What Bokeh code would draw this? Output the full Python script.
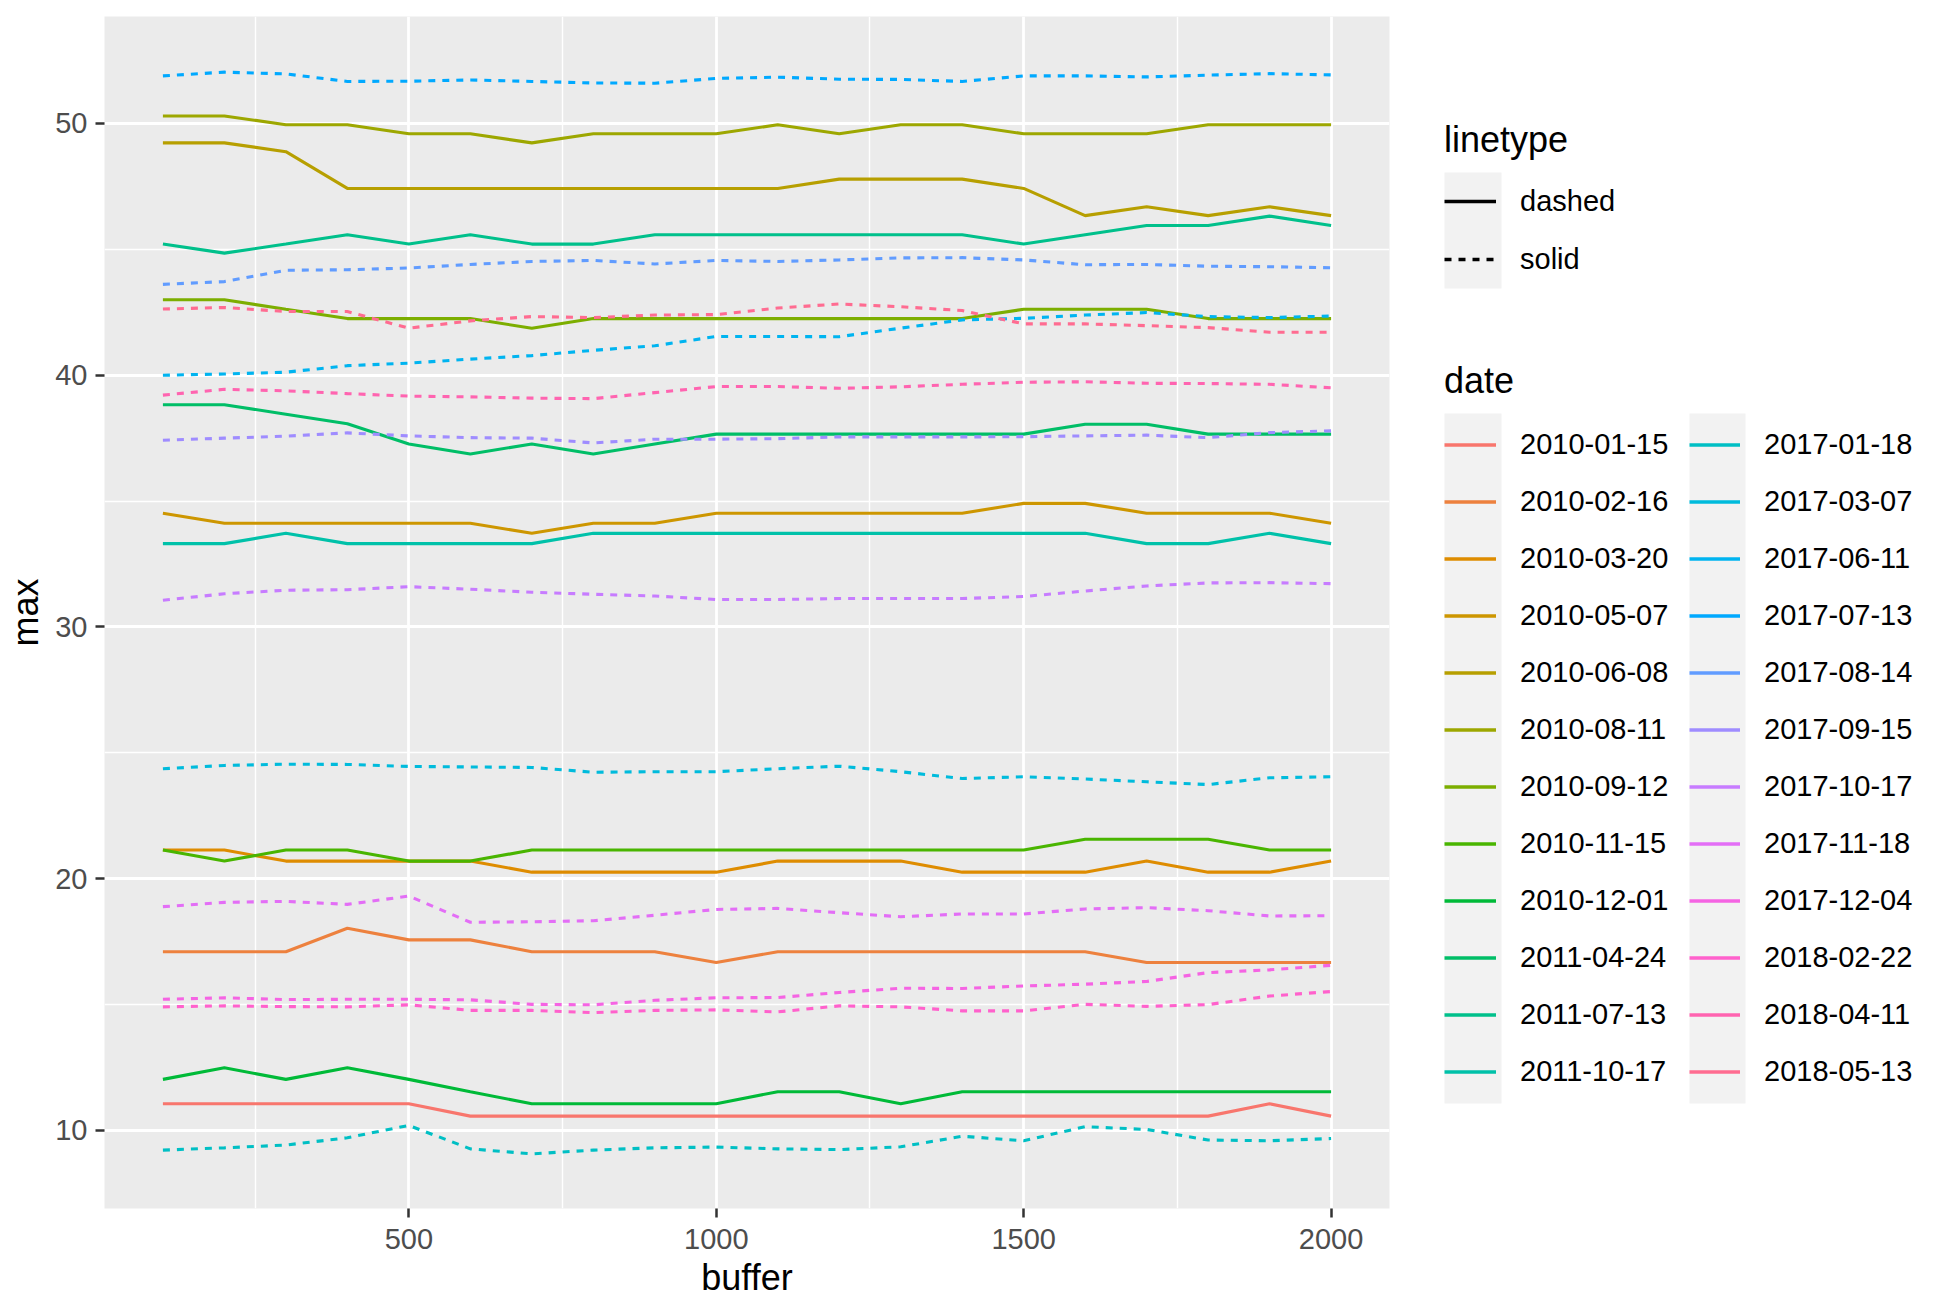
import math
from bokeh.plotting import figure
from bokeh.layouts import row
from bokeh.models import ColumnDataSource, Range1d, FixedTicker, Legend, LegendItem, BoxAnnotation
from bokeh.embed import file_html
from bokeh.resources import INLINE

FONT = "Liberation Sans"

# ---------------- data ----------------
buffer = [100, 200, 300, 400, 500, 600, 700, 800, 900, 1000,
          1100, 1200, 1300, 1400, 1500, 1600, 1700, 1800, 1900, 2000]

dates = ["2010-01-15", "2010-02-16", "2010-03-20", "2010-05-07", "2010-06-08", "2010-08-11",
         "2010-09-12", "2010-11-15", "2010-12-01", "2011-04-24", "2011-07-13", "2011-10-17",
         "2017-01-18", "2017-03-07", "2017-06-11", "2017-07-13", "2017-08-14", "2017-09-15",
         "2017-10-17", "2017-11-18", "2017-12-04", "2018-02-22", "2018-04-11", "2018-05-13"]

linetype = ["dashed"] * 12 + ["solid"] * 12
linetype_levels = ["dashed", "solid"]

max_2010_01_15 = [11.06, 11.06, 11.06, 11.06, 11.06, 10.57, 10.57, 10.57, 10.57, 10.57,
                  10.57, 10.57, 10.57, 10.57, 10.57, 10.57, 10.57, 10.57, 11.06, 10.57]
max_2010_02_16 = [17.10, 17.10, 17.10, 18.03, 17.57, 17.57, 17.10, 17.10, 17.10, 16.67,
                  17.10, 17.10, 17.10, 17.10, 17.10, 17.10, 16.67, 16.67, 16.67, 16.67]
max_2010_03_20 = [21.14, 21.14, 20.70, 20.70, 20.70, 20.70, 20.26, 20.26, 20.26, 20.26,
                  20.70, 20.70, 20.70, 20.26, 20.26, 20.26, 20.70, 20.26, 20.26, 20.70]
max_2010_05_07 = [34.52, 34.12, 34.12, 34.12, 34.12, 34.12, 33.72, 34.12, 34.12, 34.52,
                  34.52, 34.52, 34.52, 34.52, 34.91, 34.91, 34.52, 34.52, 34.52, 34.12]
max_2010_06_08 = [49.23, 49.23, 48.88, 47.42, 47.42, 47.42, 47.42, 47.42, 47.42, 47.42,
                  47.42, 47.79, 47.79, 47.79, 47.42, 46.34, 46.69, 46.34, 46.69, 46.34]
max_2010_08_11 = [50.30, 50.30, 49.95, 49.95, 49.59, 49.59, 49.23, 49.59, 49.59, 49.59,
                  49.95, 49.59, 49.95, 49.95, 49.59, 49.59, 49.59, 49.95, 49.95, 49.95]
max_2010_09_12 = [43.00, 43.00, 42.62, 42.25, 42.25, 42.25, 41.87, 42.25, 42.25, 42.25,
                  42.25, 42.25, 42.25, 42.25, 42.62, 42.62, 42.62, 42.25, 42.25, 42.25]
max_2010_11_15 = [21.14, 20.70, 21.14, 21.14, 20.70, 20.70, 21.14, 21.14, 21.14, 21.14,
                  21.14, 21.14, 21.14, 21.14, 21.14, 21.57, 21.57, 21.57, 21.14, 21.14]
max_2010_12_01 = [12.03, 12.49, 12.03, 12.49, 12.03, 11.54, 11.06, 11.06, 11.06, 11.06,
                  11.54, 11.54, 11.06, 11.54, 11.54, 11.54, 11.54, 11.54, 11.54, 11.54]
max_2011_04_24 = [38.83, 38.83, 38.45, 38.07, 37.27, 36.87, 37.27, 36.87, 37.27, 37.66,
                  37.66, 37.66, 37.66, 37.66, 37.66, 38.05, 38.05, 37.66, 37.66, 37.66]
max_2011_07_13 = [45.21, 44.85, 45.21, 45.58, 45.21, 45.58, 45.21, 45.21, 45.58, 45.58,
                  45.58, 45.58, 45.58, 45.58, 45.21, 45.58, 45.95, 45.95, 46.32, 45.95]
max_2011_10_17 = [33.31, 33.31, 33.72, 33.31, 33.31, 33.31, 33.31, 33.72, 33.72, 33.72,
                  33.72, 33.72, 33.72, 33.72, 33.72, 33.72, 33.31, 33.31, 33.72, 33.31]
max_2017_01_18 = [9.22, 9.31, 9.42, 9.71, 10.20, 9.27, 9.07, 9.22, 9.31, 9.34,
                  9.27, 9.24, 9.35, 9.77, 9.59, 10.15, 10.04, 9.62, 9.59, 9.68]
max_2017_03_07 = [24.37, 24.50, 24.55, 24.54, 24.46, 24.44, 24.42, 24.23, 24.25, 24.25,
                  24.37, 24.47, 24.25, 23.98, 24.05, 23.96, 23.85, 23.74, 24.01, 24.05]
max_2017_06_11 = [40.00, 40.05, 40.12, 40.38, 40.48, 40.64, 40.78, 40.99, 41.17, 41.54,
                  41.54, 41.53, 41.87, 42.20, 42.26, 42.39, 42.49, 42.33, 42.29, 42.35]
max_2017_07_13 = [51.89, 52.04, 51.97, 51.67, 51.68, 51.73, 51.67, 51.61, 51.60, 51.79,
                  51.84, 51.76, 51.75, 51.67, 51.89, 51.89, 51.85, 51.92, 51.98, 51.93]
max_2017_08_14 = [43.61, 43.72, 44.17, 44.19, 44.26, 44.40, 44.52, 44.56, 44.42, 44.56,
                  44.52, 44.58, 44.66, 44.67, 44.58, 44.39, 44.40, 44.33, 44.31, 44.27]
max_2017_09_15 = [37.42, 37.50, 37.58, 37.71, 37.59, 37.52, 37.50, 37.31, 37.46, 37.46,
                  37.48, 37.55, 37.55, 37.55, 37.56, 37.59, 37.62, 37.52, 37.72, 37.79]
max_2017_10_17 = [31.06, 31.32, 31.46, 31.48, 31.60, 31.50, 31.38, 31.30, 31.23, 31.09,
                  31.09, 31.13, 31.13, 31.13, 31.21, 31.43, 31.63, 31.75, 31.76, 31.72]
max_2017_11_18 = [18.89, 19.06, 19.10, 18.98, 19.31, 18.27, 18.29, 18.33, 18.55, 18.78,
                  18.82, 18.65, 18.49, 18.60, 18.60, 18.80, 18.85, 18.73, 18.52, 18.53]
max_2017_12_04 = [15.21, 15.27, 15.20, 15.21, 15.21, 15.19, 15.01, 14.99, 15.17, 15.27,
                  15.28, 15.48, 15.65, 15.64, 15.74, 15.81, 15.92, 16.27, 16.38, 16.56]
max_2018_02_22 = [14.91, 14.95, 14.92, 14.91, 14.99, 14.77, 14.77, 14.68, 14.77, 14.79,
                  14.71, 14.95, 14.91, 14.75, 14.75, 15.01, 14.93, 15.00, 15.34, 15.52]
max_2018_04_11 = [39.21, 39.44, 39.38, 39.27, 39.17, 39.14, 39.09, 39.07, 39.31, 39.55,
                  39.55, 39.48, 39.54, 39.64, 39.72, 39.74, 39.68, 39.67, 39.64, 39.50]
max_2018_05_13 = [42.63, 42.69, 42.53, 42.53, 41.87, 42.16, 42.33, 42.29, 42.39, 42.41,
                  42.67, 42.83, 42.72, 42.57, 42.04, 42.04, 41.97, 41.89, 41.71, 41.71]

max_values = [max_2010_01_15, max_2010_02_16, max_2010_03_20, max_2010_05_07, max_2010_06_08,
              max_2010_08_11, max_2010_09_12, max_2010_11_15, max_2010_12_01, max_2011_04_24,
              max_2011_07_13, max_2011_10_17, max_2017_01_18, max_2017_03_07, max_2017_06_11,
              max_2017_07_13, max_2017_08_14, max_2017_09_15, max_2017_10_17, max_2017_11_18,
              max_2017_12_04, max_2018_02_22, max_2018_04_11, max_2018_05_13]


# ---------------- ggplot-like hue palette ----------------
def hcl_hex(h, c=100.0, l=65.0):
    hr = math.radians(h)
    U = c * math.cos(hr)
    V = c * math.sin(hr)
    Y = 100.0 * (((l + 16.0) / 116.0) ** 3 if l > 8 else l / 903.3)
    un, vn = 0.1978398, 0.4683363
    u = U / (13.0 * l) + un
    v = V / (13.0 * l) + vn
    X = 9.0 * Y * u / (4.0 * v)
    Z = -X / 3.0 - 5.0 * Y + 3.0 * Y / v
    X, Y, Z = X / 100.0, Y / 100.0, Z / 100.0
    r = 3.240479 * X - 1.537150 * Y - 0.498535 * Z
    g = -0.969256 * X + 1.875992 * Y + 0.041556 * Z
    b = 0.055648 * X - 0.204043 * Y + 1.057311 * Z

    def gam(t):
        t = 1.055 * t ** (1 / 2.4) - 0.055 if t > 0.00304 else 12.92 * t
        return int(round(255 * min(1.0, max(0.0, t))))

    return "#%02X%02X%02X" % (gam(r), gam(g), gam(b))


def hue_pal(n):
    step = 360.0 / n
    return [hcl_hex(15 + i * step) for i in range(n)]


colors = hue_pal(len(dates))
dash_for = {"dashed": "solid", "solid": "7 7"}   # ggplot maps 1st level -> solid, 2nd -> "22"

TOP, BOTTOM, HEIGHT = 16, 94, 1302

# ---------------- main plot ----------------
p = figure(width=1410, height=HEIGHT,
           x_range=Range1d(5, 2095), y_range=Range1d(6.9, 54.25),
           output_backend="svg", toolbar_location=None,
           min_border_left=104, min_border_right=21, min_border_top=TOP, min_border_bottom=BOTTOM,
           background_fill_color="#EBEBEB", border_fill_color="white",
           outline_line_color=None)

p.xaxis.ticker = FixedTicker(ticks=[500, 1000, 1500, 2000], minor_ticks=[250, 750, 1250, 1750])
p.yaxis.ticker = FixedTicker(ticks=[10, 20, 30, 40, 50], minor_ticks=[15, 25, 35, 45])

for g in (p.xgrid, p.ygrid):
    g.grid_line_color = "white"
    g.grid_line_width = 2.8
    g.minor_grid_line_color = "white"
    g.minor_grid_line_width = 1.4

p.axis.axis_line_color = None
p.axis.major_tick_line_color = "#333333"
p.axis.major_tick_line_width = 2.5
p.axis.major_tick_out = 9
p.axis.major_tick_in = 0
p.axis.minor_tick_line_color = None
p.axis.major_label_text_font = FONT
p.axis.major_label_text_font_size = "29px"
p.axis.major_label_text_color = "#4D4D4D"
p.axis.axis_label_text_font = FONT
p.axis.axis_label_text_font_size = "36px"
p.axis.axis_label_text_font_style = "normal"
p.axis.axis_label_text_color = "black"
p.xaxis.axis_label = "buffer"
p.yaxis.axis_label = "max"
p.xaxis.major_label_standoff = 11
p.yaxis.major_label_standoff = 8
p.xaxis.axis_label_standoff = 5
p.yaxis.axis_label_standoff = 6

for d, vals, col, lt in zip(dates, max_values, colors, linetype):
    p.line(buffer, vals, line_color=col, line_width=3.1, line_dash=dash_for[lt])

# ---------------- legend panel ----------------
q = figure(width=521, height=HEIGHT, x_range=Range1d(0, 1), y_range=Range1d(0, 1),
           x_axis_type=None, y_axis_type=None,
           output_backend="svg", toolbar_location=None,
           min_border_left=0, min_border_right=0, min_border_top=TOP, min_border_bottom=BOTTOM,
           background_fill_color="white", border_fill_color="white",
           outline_line_color=None)
q.grid.visible = False

KEY_BG = "#F2F2F2"
boxes = [(34, 91, 920, 1036), (34, 91, 105, 795), (279, 335, 105, 795)]
for l, r, b, t in boxes:
    q.add_layout(BoxAnnotation(left=l, right=r, bottom=b, top=t,
                               left_units="screen", right_units="screen",
                               bottom_units="screen", top_units="screen",
                               fill_color=KEY_BG, fill_alpha=1.0, line_color=None))

NAN = float("nan")
lt_items = []
for lev in linetype_levels:
    src = ColumnDataSource(dict(x=[NAN], y=[NAN]))
    r = q.line("x", "y", source=src, line_color="black", line_width=3.3, line_dash=dash_for[lev])
    lt_items.append(LegendItem(label=lev, renderers=[r]))

date_items = []
for d, col in zip(dates, colors):
    src = ColumnDataSource(dict(x=[NAN], y=[NAN]))
    r = q.line("x", "y", source=src, line_color=col, line_width=3.3)
    date_items.append(LegendItem(label=d, renderers=[r]))

common = dict(label_text_font=FONT, label_text_font_size="29px", label_text_color="black",
              title_text_font=FONT, title_text_font_size="36px", title_text_font_style="normal",
              title_text_color="black", padding=0, margin=0, spacing=0,
              label_standoff=24, border_line_color=None, background_fill_alpha=0)

leg_lt = Legend(items=lt_items, title="linetype", location=(34, 920),
                glyph_width=52, glyph_height=58, label_height=58, title_standoff=11, **common)
leg_d1 = Legend(items=date_items[:12], title="date", location=(34, 108),
                glyph_width=52, glyph_height=57, label_height=57, title_standoff=14, **common)
leg_d2 = Legend(items=date_items[12:], location=(279, 108),
                glyph_width=51, glyph_height=57, label_height=57, **common)
for lg in (leg_lt, leg_d1, leg_d2):
    q.add_layout(lg)

layout = row(p, q, spacing=0)
open("out.html", "w").write(file_html(layout, INLINE))
